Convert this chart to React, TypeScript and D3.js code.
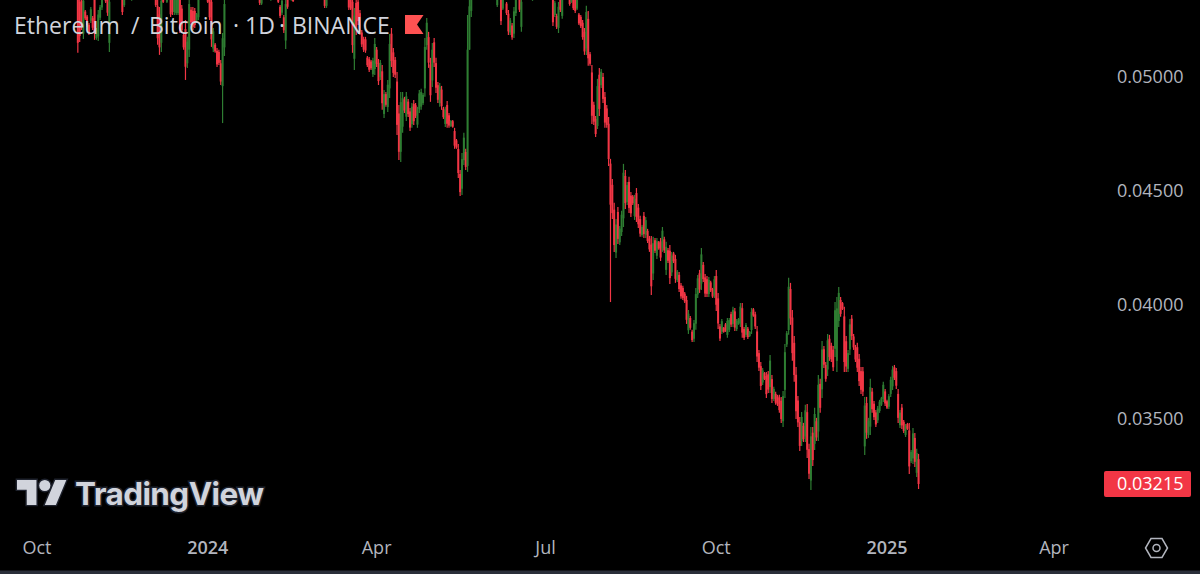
import React from "react";
import * as d3 from "d3";

// Prices are in units of 0.00001
const PRICE_UNIT = 0.00001;
const firstBarDate = new Date(Date.UTC(2023, 9, 23));

const highs = [
5382,5360,5360,5360,5294,5272,5237,5307,5268,5373,
5215,5294,5316,5373,5400,5364,5364,5364,5440,5470,
5480,5500,5500,5430,5360,5364,5420,5430,5400,5356,
5440,5500,5510,5520,5530,5470,5460,5480,5490,5490,
5430,5400,5360,5338,5307,5360,5360,5420,5356,5410,
5360,5350,5350,5350,5350,5350,5316,5193,5250,5176,
5350,5307,5307,5303,5281,5350,5410,5420,5450,5450,
5350,5350,5350,5215,5149,5127,5119,5075,5193,5350,
5420,5520,5600,5620,5640,5650,5580,5590,5600,5530,
5570,5580,5510,5450,5410,5430,5430,5390,5360,5360,
5430,5440,5400,5420,5356,5430,5440,5400,5360,5316,
5347,5272,5350,5350,5410,5360,5360,5460,5510,5520,
5600,5610,5620,5620,5540,5530,5530,5460,5480,5480,
5430,5390,5420,5360,5360,5440,5450,5510,5520,5450,
5470,5480,5420,5440,5440,5390,5360,5360,5350,5303,
5350,5350,5294,5206,5176,5176,5092,5088,5075,5084,
5171,5132,5079,5075,5053,4943,4934,4987,5189,5215,
5127,5088,5022,4877,4934,4934,4913,4934,4904,4864,
4886,4899,4886,4869,4943,4948,4930,5171,5259,5198,
5084,5149,5171,5084,4978,4974,4961,4869,4869,4895,
4842,4811,4811,4777,4728,4706,4592,4667,4755,4685,
5272,5338,5360,5500,5600,5610,5540,5560,5570,5600,
5600,5530,5550,5550,5490,5430,5360,5420,5360,5360,
5400,5329,5294,5259,5237,5307,5350,5400,5350,5350,
5420,5430,5450,5450,5390,5356,5430,5440,5480,5490,
5440,5470,5470,5420,5390,5420,5360,5334,5277,5329,
5360,5356,5410,5420,5380,5356,5356,5356,5356,5356,
5281,5272,5250,5215,5312,5290,5110,5053,4891,4829,
4992,5040,5035,5018,4934,4877,4825,4641,4553,4448,
4377,4430,4347,4413,4619,4592,4540,4562,4496,4483,
4483,4513,4443,4391,4351,4408,4386,4334,4303,4303,
4299,4294,4294,4281,4294,4342,4299,4277,4250,4263,
4233,4233,4220,4154,4145,4097,4084,4057,4040,3978,
3952,3891,3934,4075,4132,4154,4250,4189,4136,4127,
4123,4106,4075,4127,4154,4053,3917,3939,3904,3921,
3943,3943,3970,3992,3987,3939,3943,4009,4009,3904,
3921,3904,3886,3987,3987,3970,3908,3803,3750,3724,
3706,3706,3711,3781,3693,3641,3619,3606,3606,3597,
3623,3829,3886,4119,4097,3978,3864,3728,3601,3509,
3531,3483,3562,3566,3391,3465,3465,3549,3505,3693,
3676,3842,3820,3750,3873,3869,3834,3820,4013,4035,
4079,4035,4013,3992,3864,3803,3939,3956,3873,3825,
3834,3785,3728,3728,3597,3597,3505,3676,3636,3579,
3540,3557,3584,3597,3663,3632,3584,3610,3685,3733,
3737,3724,3632,3540,3566,3496,3478,3483,3483,3364,
3461,3439,3369,3347];

const lows = [
5106,5154,5206,5167,5250,5220,5184,5237,5206,5163,
5163,5158,5250,5294,5345,5325,5268,5110,5350,5360,
5380,5385,5400,5360,5272,5307,5345,5350,5345,5334,
5345,5410,5420,5425,5440,5390,5380,5400,5405,5400,
5360,5345,5307,5141,5097,5110,5325,5345,5325,5345,
5263,5272,5272,5272,5272,5193,5193,5119,4987,5040,
5088,5228,5206,5215,5241,5250,5340,5345,5350,5350,
5325,5250,5132,5110,5106,5044,5053,4965,4798,5092,
5345,5400,5500,5520,5520,5540,5480,5470,5500,5430,
5430,5490,5420,5380,5360,5360,5360,5350,5316,5316,
5345,5370,5350,5345,5334,5345,5370,5350,5325,5259,
5272,5193,5123,5299,5345,5334,5329,5340,5440,5440,
5440,5500,5500,5520,5460,5460,5440,5400,5400,5410,
5370,5345,5345,5303,5303,5345,5380,5385,5430,5380,
5380,5400,5360,5360,5370,5345,5294,5294,5106,5031,
5184,5228,5184,5132,5110,5106,5044,5022,5031,5000,
5009,5044,4965,4987,4856,4820,4869,4847,4908,5044,
5000,4996,4746,4636,4627,4755,4842,4807,4825,4763,
4777,4790,4820,4777,4842,4856,4877,4913,5119,5040,
4891,4956,5044,4930,4886,4869,4856,4816,4781,4777,
4777,4781,4777,4685,4685,4557,4478,4483,4614,4592,
4584,5119,5263,5340,5470,5510,5470,5470,5480,5480,
5510,5460,5460,5470,5410,5345,5307,5340,5228,5294,
5345,5272,5184,5184,5163,5171,5268,5340,5285,5198,
5345,5370,5370,5370,5342,5334,5345,5380,5380,5420,
5390,5390,5400,5370,5345,5345,5224,5263,5211,5193,
5285,5255,5342,5360,5342,5312,5325,5294,5281,5294,
5228,5215,5163,5097,5097,5049,5049,4794,4790,4737,
4772,4829,4952,4886,4777,4777,4610,4013,4377,4233,
4206,4268,4263,4303,4342,4421,4439,4404,4386,4439,
4373,4364,4338,4299,4299,4294,4294,4272,4233,4044,
4110,4228,4202,4242,4193,4233,4228,4132,4184,4092,
4127,4184,4097,4101,4057,4027,4022,4009,3917,3873,
3891,3838,3838,3891,4031,4053,4066,4101,4035,4035,
4035,4057,4031,4031,3974,3895,3842,3873,3878,3882,
3856,3882,3904,3904,3886,3886,3913,3904,3856,3847,
3860,3851,3860,3873,3948,3895,3750,3711,3627,3649,
3671,3592,3614,3614,3570,3579,3562,3557,3527,3483,
3465,3592,3816,3869,3913,3755,3663,3500,3465,3360,
3382,3399,3399,3329,3237,3189,3294,3364,3404,3404,
3527,3592,3724,3663,3689,3755,3750,3711,3772,3706,
3904,3948,3978,3706,3706,3706,3781,3847,3803,3750,
3706,3645,3610,3601,3342,3413,3417,3430,3527,3496,
3465,3483,3527,3557,3575,3557,3544,3544,3597,3627,
3671,3632,3483,3461,3456,3439,3421,3452,3259,3307,
3303,3290,3246,3193];

const opens = [
5340,5330,5335,5190,5287,5265,5229,5247,5258,5340,
5171,5178,5260,5305,5390,5358,5350,5150,5420,5375,
5460,5400,5490,5420,5350,5315,5360,5415,5390,5338,
5355,5425,5490,5435,5510,5450,5400,5450,5415,5475,
5410,5370,5352,5310,5275,5150,5355,5355,5330,5400,
5350,5340,5285,5280,5280,5340,5300,5185,5210,5060,
5120,5295,5290,5290,5248,5262,5350,5400,5360,5435,
5345,5340,5330,5125,5142,5115,5110,5060,4960,5130,
5350,5410,5510,5600,5530,5630,5560,5490,5585,5515,
5440,5565,5500,5435,5395,5370,5420,5375,5352,5322,
5355,5425,5385,5355,5338,5352,5425,5385,5352,5308,
5282,5262,5160,5340,5350,5338,5355,5345,5450,5500,
5450,5590,5510,5610,5530,5470,5520,5450,5410,5470,
5420,5380,5350,5350,5312,5355,5435,5390,5505,5440,
5390,5465,5410,5370,5430,5380,5350,5345,5330,5080,
5325,5330,5280,5195,5166,5165,5085,5078,5068,5012,
5035,5120,5062,5000,5025,4838,4925,4868,4950,5190,
5108,5075,4980,4840,4672,4782,4902,4826,4892,4849,
4793,4882,4876,4791,4857,4870,4885,4950,5140,5175,
5055,4985,5152,5061,4964,4885,4945,4861,4794,4877,
4832,4785,4806,4763,4722,4684,4575,4510,4635,4671,
4610,5120,5290,5350,5480,5590,5520,5480,5550,5490,
5590,5520,5470,5540,5480,5420,5315,5400,5345,5300,
5390,5322,5278,5195,5226,5190,5280,5345,5342,5220,
5350,5415,5380,5440,5380,5338,5352,5425,5390,5470,
5430,5400,5460,5410,5380,5350,5345,5272,5268,5215,
5350,5268,5350,5405,5372,5350,5330,5348,5345,5300,
5274,5264,5238,5198,5125,5255,5100,5020,4878,4816,
4785,5010,4964,5000,4912,4862,4795,4620,4527,4418,
4230,4408,4275,4320,4380,4566,4452,4540,4480,4476,
4390,4491,4427,4377,4307,4391,4308,4325,4292,4265,
4138,4284,4216,4275,4279,4249,4288,4154,4240,4238,
4143,4226,4202,4109,4132,4086,4075,4050,4022,3889,
3943,3883,3852,3918,4046,4139,4094,4176,4121,4113,
4048,4099,4069,4045,4127,4029,3906,3883,3900,3915,
3869,3891,3960,3917,3972,3894,3917,3920,3986,3895,
3869,3896,3864,3890,3981,3959,3884,3789,3732,3660,
3701,3689,3696,3640,3675,3588,3610,3599,3594,3580,
3490,3628,3827,3890,4070,3945,3834,3694,3581,3487,
3404,3470,3423,3530,3368,3230,3440,3391,3490,3445,
3654,3630,3806,3737,3717,3852,3822,3804,3808,3755,
3930,4022,4008,3950,3841,3720,3805,3940,3862,3814,
3815,3764,3710,3709,3380,3570,3430,3466,3620,3567,
3529,3494,3535,3563,3588,3621,3578,3554,3610,3643,
3727,3710,3610,3473,3550,3488,3430,3478,3450,3315,
3327,3417,3264,3324];

const closes = [
5150,5180,5230,5335,5257,5228,5192,5297,5216,5195,
5207,5274,5306,5360,5355,5332,5282,5330,5365,5455,
5395,5490,5415,5368,5285,5355,5410,5360,5350,5352,
5430,5490,5430,5510,5450,5400,5450,5415,5475,5410,
5370,5355,5315,5170,5130,5335,5330,5410,5350,5350,
5275,5285,5340,5340,5342,5210,5205,5130,5045,5155,
5320,5240,5220,5228,5275,5338,5400,5355,5440,5360,
5330,5262,5165,5200,5112,5055,5062,4980,5170,5320,
5410,5510,5590,5530,5630,5550,5490,5580,5510,5440,
5560,5500,5430,5390,5370,5420,5368,5355,5325,5352,
5420,5380,5358,5410,5352,5420,5380,5358,5330,5268,
5335,5205,5320,5308,5400,5355,5333,5450,5500,5450,
5590,5510,5610,5530,5470,5520,5450,5410,5470,5420,
5380,5350,5410,5312,5352,5430,5390,5500,5440,5390,
5460,5410,5370,5430,5380,5350,5305,5300,5140,5270,
5210,5245,5200,5143,5120,5116,5052,5032,5038,5072,
5145,5058,4982,5062,4885,4925,4878,4966,5145,5070,
5018,5010,4790,4672,4890,4907,4853,4915,4837,4778,
4870,4806,4830,4855,4928,4934,4922,5132,5238,5063,
4920,5120,5063,4953,4900,4958,4872,4824,4856,4795,
4787,4807,4782,4699,4691,4579,4495,4640,4734,4606,
5120,5310,5350,5480,5590,5520,5480,5550,5490,5590,
5520,5470,5540,5480,5420,5355,5350,5350,5245,5350,
5350,5280,5200,5248,5174,5288,5338,5390,5295,5330,
5410,5380,5440,5380,5348,5352,5420,5390,5470,5430,
5400,5460,5410,5380,5350,5410,5240,5326,5220,5308,
5295,5345,5400,5370,5350,5320,5350,5302,5290,5348,
5235,5223,5175,5112,5285,5082,5058,4830,4804,4750,
4960,4860,5023,4904,4800,4790,4640,4440,4403,4263,
4353,4290,4335,4396,4580,4447,4526,4426,4402,4446,
4466,4386,4354,4313,4343,4311,4372,4281,4244,4082,
4271,4238,4280,4248,4208,4326,4239,4255,4194,4118,
4217,4192,4115,4146,4070,4038,4031,4016,3935,3962,
3900,3846,3920,4048,4117,4068,4222,4114,4050,4049,
4110,4064,4037,4113,4001,3919,3853,3929,3882,3888,
3930,3934,3914,3979,3901,3931,3939,3993,3879,3856,
3912,3859,3882,3970,3954,3906,3774,3725,3645,3713,
3676,3609,3629,3756,3588,3632,3571,3564,3539,3500,
3600,3793,3876,4080,3941,3789,3693,3534,3485,3382,
3509,3412,3538,3365,3260,3424,3320,3522,3419,3650,
3549,3805,3738,3676,3845,3772,3762,3727,3977,3985,
4053,3961,3983,3750,3730,3789,3915,3863,3814,3761,
3725,3666,3628,3620,3559,3440,3492,3640,3543,3508,
3476,3546,3576,3591,3650,3568,3550,3600,3672,3717,
3681,3646,3505,3528,3472,3447,3470,3457,3292,3356,
3437,3312,3351,3215];

const priceTicks = [0.05, 0.045, 0.04, 0.035];
const lastPrice = 0.03215;
const timeLabels = ["Oct", "2024", "Apr", "Jul", "Oct", "2025", "Apr"];
const timeDates = [
  Date.UTC(2023, 9, 1), Date.UTC(2024, 0, 1), Date.UTC(2024, 3, 1), Date.UTC(2024, 6, 1),
  Date.UTC(2024, 9, 1), Date.UTC(2025, 0, 1), Date.UTC(2025, 3, 1),
];
const boldLabels = ["2024", "2025"];
const titleParts = ["Ethereum", "/", "Bitcoin", "·", "1D", "·", "BINANCE"];
const titleStarts = [14, 131, 149, 233, 245, 279, 292];

const RED = "#f23645";
const GREEN = "#2e7d32";
const TEXT = "#b2b5be";
const FONT = "'Open Sans', sans-serif";

const x = d3.scaleUtc().domain([new Date(Date.UTC(2023, 9, 1)), new Date(Date.UTC(2025, 0, 1))]).range([37, 887]);
const y = d3.scaleLinear().domain([0.035, 0.05]).range([419, 77]);

export default function App() {
  const fmt = d3.format(".5f");
  const bars = closes.map((c, i) => {
    const date = d3.utcDay.offset(firstBarDate, i);
    const px = x(date);
    const o = opens[i] * PRICE_UNIT;
    const cl = c * PRICE_UNIT;
    const top = y(Math.max(o, cl));
    const bottom = y(Math.min(o, cl));
    const color = cl >= o ? GREEN : RED;
    return (
      <g key={i}>
        <line x1={px} x2={px} y1={y(highs[i] * PRICE_UNIT)} y2={y(lows[i] * PRICE_UNIT)} stroke={color} strokeWidth={1.2} />
        <rect x={px - 1} width={2} y={top} height={Math.max(bottom - top, 1)} fill={color} />
      </g>
    );
  });
  return (
    <svg width={1200} height={574} style={{ position: "absolute", left: 0, top: 0, display: "block", background: "#000" }} fontFamily={FONT}>
      <rect width={1200} height={574} fill="#000" />
      <g>{bars}</g>
      <text y={33.5} fontSize={23} fill="#d1d4dc">
        {titleParts.map((t, i) => (
          <tspan key={i} x={titleStarts[i]}>{t}</tspan>
        ))}
      </text>
      <path d="M405 15H423.5L417 24.5L423.5 34H405Z" fill="#ff5252" />
      {priceTicks.map((p) => (
        <text key={p} x={1117} y={y(p)} dy="0.36em" fontSize={18} fill={TEXT}>{fmt(p)}</text>
      ))}
      <rect x={1104} y={471} width={87} height={26} rx={2} fill={RED} />
      <text x={1117} y={484} dy="0.36em" fontSize={18} fill="#fff">{fmt(lastPrice)}</text>
      {timeLabels.map((t, i) => (
        <text key={i} x={x(new Date(timeDates[i]))} y={548} dy="0.36em" textAnchor="middle" fontSize={18}
          fontWeight={boldLabels.includes(t) ? 600 : 400} fill={TEXT}>{t}</text>
      ))}
      <g transform="translate(17,474.4) scale(1.39)" fill="#d1d4dc" stroke="#1e222d" strokeWidth={2} paintOrder="stroke">
        <path d="M14 22H7V11H0V4h14v18zM28 22h-8l7.5-18h8L28 22z" />
        <circle cx={20} cy={8} r={4} />
      </g>
      <text x={75} y={505} fontFamily="Inter, sans-serif" fontWeight={700} fontSize={31.5} letterSpacing={-0.6} fill="#d1d4dc"
        stroke="#1e222d" strokeWidth={3} paintOrder="stroke">TradingView</text>
      <path d="M1151 538.5H1162L1167.5 548L1162 557.5H1151L1145.5 548Z" fill="none" stroke={TEXT} strokeWidth={1.5} />
      <circle cx={1156.5} cy={548} r={3.5} fill="none" stroke={TEXT} strokeWidth={1.5} />
      <rect x={0} y={570.5} width={1200} height={3.5} fill="#2a2e39" />
    </svg>
  );
}
